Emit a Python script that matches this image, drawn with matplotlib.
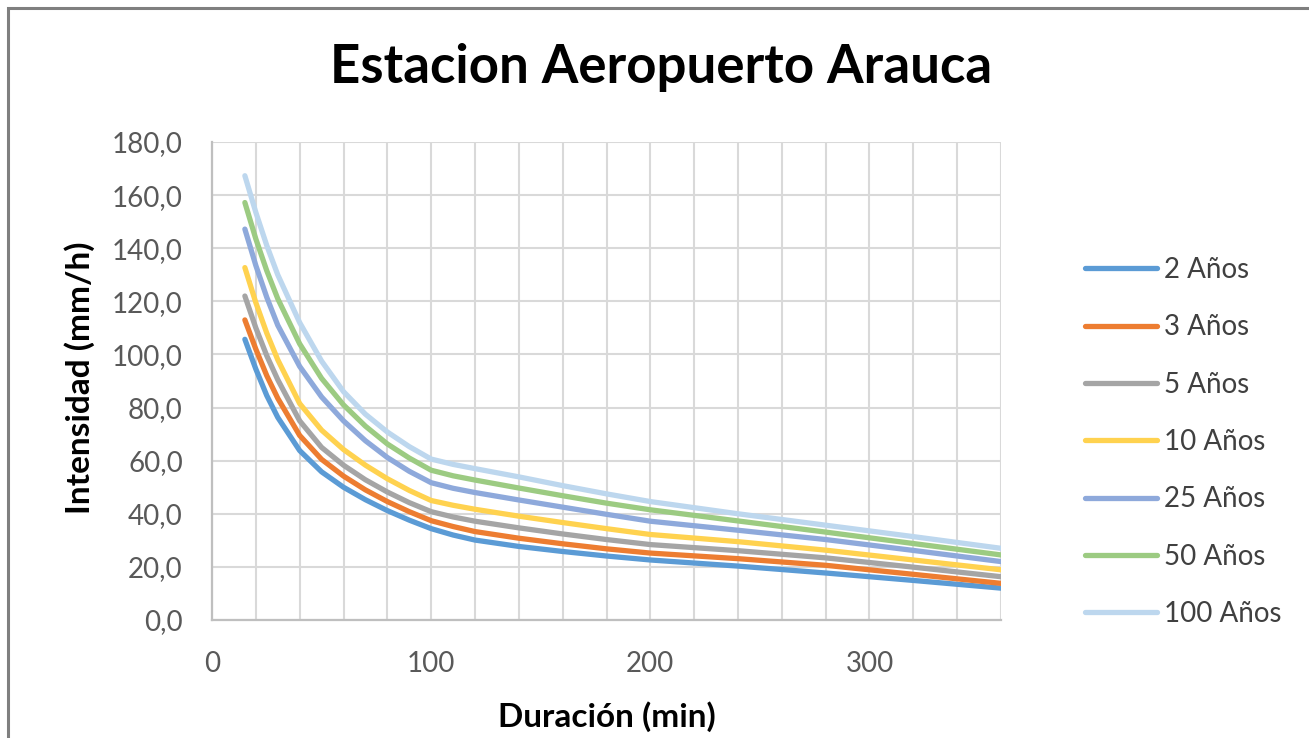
import matplotlib
matplotlib.use("Agg")
import matplotlib.pyplot as plt
from matplotlib.patches import Rectangle
from matplotlib.ticker import MultipleLocator, FixedLocator

plt.rcParams['font.family'] = ['Lato', 'DejaVu Sans']

title = "Estacion Aeropuerto Arauca"
x_label = "Duración (min)"
y_label = "Intensidad (mm/h)"

durations = [15, 20, 25, 30, 40, 50, 60, 70, 80, 90, 100, 110, 120, 140, 160, 180, 200, 240, 280, 320, 360]

series_names = ["2 Años", "3 Años", "5 Años", "10 Años", "25 Años", "50 Años", "100 Años"]

i_2 = [105.7, 94.5, 84.5, 76.3, 63.8, 55.8, 50.0, 45.3, 41.2, 37.6, 34.4, 32.0, 30.1, 27.7, 25.8, 24.1, 22.6, 20.3, 17.7, 14.9, 12.0]
i_3 = [113.0, 102.0, 92.0, 83.5, 69.5, 60.5, 54.2, 49.0, 44.6, 40.8, 37.4, 35.2, 33.3, 30.8, 28.7, 26.8, 25.2, 23.1, 20.6, 17.2, 13.8]
i_5 = [122.0, 110.0, 99.5, 90.5, 75.0, 65.0, 58.3, 52.8, 48.2, 44.2, 40.8, 38.8, 37.2, 34.7, 32.4, 30.3, 28.4, 26.1, 23.4, 19.9, 16.3]
i_10 = [132.7, 119.5, 108.0, 98.0, 81.5, 71.5, 64.2, 58.3, 53.2, 48.8, 45.0, 43.2, 41.7, 39.1, 36.7, 34.4, 32.2, 29.5, 26.3, 22.6, 18.9]
i_25 = [147.2, 133.5, 121.5, 111.0, 95.5, 84.0, 75.0, 67.5, 61.2, 56.0, 51.7, 49.6, 48.0, 45.2, 42.5, 39.8, 37.2, 33.8, 30.3, 26.2, 22.0]
i_50 = [157.2, 143.5, 131.5, 121.0, 104.0, 91.0, 81.0, 73.0, 66.3, 61.0, 56.4, 54.3, 52.7, 49.7, 46.8, 44.0, 41.5, 37.3, 33.1, 28.8, 24.5]
i_100 = [167.3, 153.5, 141.0, 130.0, 112.0, 97.5, 86.0, 77.5, 70.8, 65.3, 60.6, 58.6, 57.0, 53.9, 50.6, 47.5, 44.6, 40.0, 35.7, 31.4, 27.0]

series_values = [i_2, i_3, i_5, i_10, i_25, i_50, i_100]
colors = ["#5B9BD5", "#ED7D31", "#A5A5A5", "#FFD24F", "#8EA9DB", "#9CCB82", "#BDD7EE"]

y_ticks = [0, 20, 40, 60, 80, 100, 120, 140, 160, 180]
y_tick_labels = ["0,0", "20,0", "40,0", "60,0", "80,0", "100,0", "120,0", "140,0", "160,0", "180,0"]
x_ticks = [0, 100, 200, 300]
x_tick_labels = ["0", "100", "200", "300"]

W, H = 1309, 738
fig = plt.figure(figsize=(W / 100, H / 100), dpi=100)
fig.patch.set_facecolor("white")

# outer border (top and left visible)
fig.add_artist(Rectangle((8 / W, -0.1), 1.2, (H - 8) / H + 0.1, transform=fig.transFigure,
                         fill=False, edgecolor="#7F7F7F", linewidth=2.2))

ax = fig.add_axes([212 / W, (H - 620) / H, (1001 - 212) / W, (620 - 142) / H])

for name, vals, c in zip(series_names, series_values, colors):
    ax.plot(durations, vals, color=c, linewidth=3.8, label=name, solid_capstyle="round",
            solid_joinstyle="round")

ax.set_xlim(0, 360)
ax.set_ylim(0, 180)
ax.xaxis.set_major_locator(FixedLocator(x_ticks))
ax.set_xticklabels(x_tick_labels)
ax.xaxis.set_minor_locator(MultipleLocator(20))
ax.yaxis.set_major_locator(FixedLocator(y_ticks))
ax.set_yticklabels(y_tick_labels)

ax.grid(True, which="both", color="#D9D9D9", linewidth=1.5)
ax.set_axisbelow(True)
for s in ["top", "right"]:
    ax.spines[s].set_visible(False)
for s in ["left", "bottom"]:
    ax.spines[s].set_color("#BFBFBF")
    ax.spines[s].set_linewidth(1.6)
ax.tick_params(which="both", length=0)
ax.tick_params(axis="both", labelsize=20, labelcolor="#595959")
ax.tick_params(axis="x", pad=22)
ax.tick_params(axis="y", pad=21)

ax.set_xlabel(x_label, fontsize=24, fontweight="bold", color="#000000", va="center")
ax.xaxis.set_label_coords(607 / W, 1 - 717 / H, transform=fig.transFigure)
ax.set_ylabel(y_label, fontsize=24, fontweight="bold", color="#000000", va="center")
ax.yaxis.set_label_coords(80 / W, 1 - 378 / H, transform=fig.transFigure)

fig.text(661 / W, 1 - 68 / H, title, fontsize=38, fontweight="bold", ha="center", va="center",
         color="#000000")

leg = ax.legend(loc="center left", bbox_to_anchor=(1060 / W, 1 - 442 / H),
                bbox_transform=fig.transFigure, frameon=False, fontsize=20,
                handlelength=2.6, labelspacing=1.13, handletextpad=0.25)
for t in leg.get_texts():
    t.set_color("#404040")

fig.savefig("out.png", dpi=100)
